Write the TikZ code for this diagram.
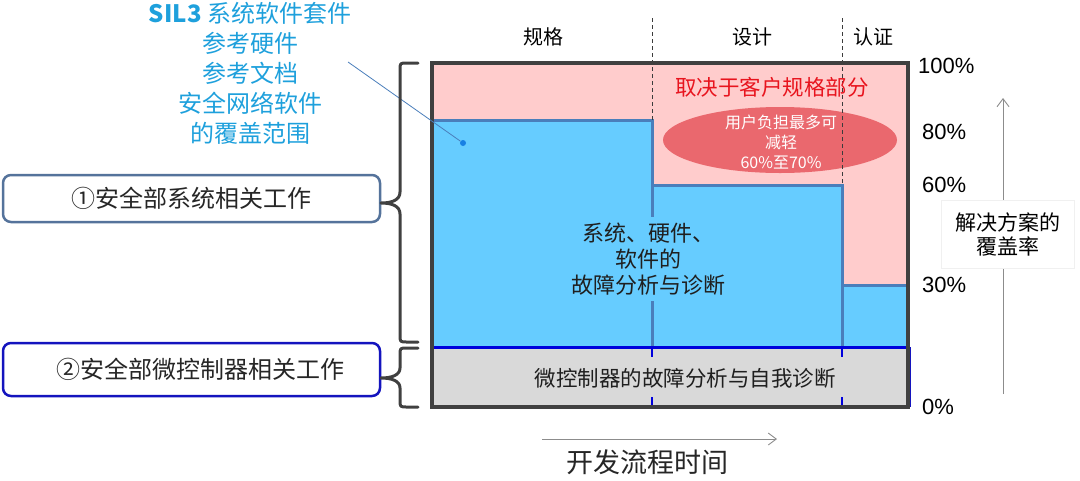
\documentclass[tikz,border=0pt]{standalone}
\usepackage{fontspec}
\setmainfont{Liberation Sans}
\newfontfamily\cjk{Noto Sans CJK SC}
\usetikzlibrary{shapes.geometric,arrows.meta}
\definecolor{pinkbg}{RGB}{255,204,204}
\definecolor{bluefill}{RGB}{102,204,255}
\definecolor{stepline}{RGB}{74,126,187}
\definecolor{framec}{RGB}{64,64,64}
\definecolor{ellfill}{RGB}{234,104,110}
\definecolor{redtxt}{RGB}{232,20,30}
\definecolor{cyantxt}{RGB}{30,160,220}
\definecolor{bandgray}{RGB}{217,217,217}
\definecolor{bandblue}{RGB}{0,0,220}
\definecolor{boxone}{RGB}{85,115,155}
\definecolor{boxtwo}{RGB}{20,20,190}
\definecolor{arrowgray}{RGB}{140,140,140}
\definecolor{dashc}{RGB}{60,60,60}
\tikzset{
  fs/.style={font=\fontsize{#1}{#1}\selectfont\cjk},
  stepbox/.style={fill=bluefill, draw=stepline, line width=3pt},
  phase/.style={dashc, line width=0.8pt, dash pattern=on 4pt off 3pt},
  bandtick/.style={bandblue, line width=2.5pt, dash pattern=on 10pt off 6pt},
  pct/.style={anchor=west, font=\fontsize{22}{22}\selectfont, inner sep=0pt},
  brace/.style={framec, line width=3pt, line cap=round, line join=round},
  workbox/.style={rounded corners=8pt, line width=2.5pt, minimum width=377pt, minimum height=47pt, fill=white, text=black!85},
  gline/.style={arrowgray, line width=0.9pt, -{Straight Barb[length=8pt,width=12pt]}},
}
\begin{document}
\begin{tikzpicture}[x=1pt,y=-1pt]
\useasboundingbox (0,0) rectangle (1080,480);

% main chart area
\fill[pinkbg] (432,63) rectangle (908,347);
\draw[stepbox] (432,120) rectangle (652,347);
\draw[stepbox] (652,185) rectangle (842,347);
\draw[stepbox] (842,285) rectangle (908,347);

% phase dividers (upper part)
\draw[phase] (652,18) -- (652,120);
\node[ellipse, fill=ellfill, minimum width=234pt, minimum height=66pt, inner sep=0pt] (ell) at (780,140) {};
\draw[phase] (842,18) -- (842,185);
\node[font={\fontsize{16}{20}\selectfont\cjk}, text=white, align=center, inner sep=0pt] (elltxt) at (781,142)
  {用户负担最多可\\减轻\\60\%至70\%};

\node[fs=21.5, text=redtxt, inner sep=0pt] (dep) at (772,87) {取决于客户规格部分};

% phase headers
\node[fs=20, inner sep=0pt] (h1) at (543,37) {规格};
\node[fs=20, inner sep=0pt] (h2) at (752,37) {设计};
\node[fs=20, inner sep=0pt] (h3) at (873,37) {认证};

% central text on blue
\node[font={\fontsize{22}{26}\selectfont\cjk}, fill=bluefill, text=black!88, align=center, inner xsep=3pt, inner ysep=6pt] (sys) at (648,259)
  {系统、硬件、\\软件的\\故障分析与诊断};

% microcontroller band
\fill[bandgray] (432,347) rectangle (910,407);
\draw[boxtwo, line width=1pt] (910,347) -- (910,407);
\draw[bandtick] (652,347) -- (652,407);
\draw[bandtick] (842,347) -- (842,407);
\draw[bandblue, line width=3pt] (432,347) -- (910,347);
\node[fs=21.5, fill=bandgray, text=black!88, inner xsep=8pt, inner ysep=9pt] (mcu) at (685,378) {微控制器的故障分析与自我诊断};

% frame
\draw[framec, line width=4pt] (432,63) rectangle (908,407);

% percentages
\node[pct] (p100) at (918,66) {100\%};
\node[pct] (p80) at (922,132) {80\%};
\node[pct] (p60) at (922,185) {60\%};
\node[pct] (p30) at (922,285) {30\%};
\node[pct] (p0) at (922,407) {0\%};

% coverage axis
\coordinate (covlo) at (1003,394);
\coordinate (covhi) at (1003,98);
\draw[gline] (covlo) -- (covhi);
\node[font={\fontsize{21}{24}\selectfont\cjk}, fill=white, draw=black!6, align=center, minimum width=133pt, minimum height=68pt, inner sep=0pt] (cov) at (1008,234)
  {解决方案的\\覆盖率};

% time axis
\coordinate (tlo) at (542,439);
\coordinate (thi) at (777,439);
\draw[gline] (tlo) -- (thi);
\node[fs=27, text=black!85, inner sep=0pt] (time) at (647,462) {开发流程时间};

% top-left blue text and pointer
\node[font={\fontsize{24}{30}\selectfont\cjk}, text=cyantxt, align=center, inner sep=0pt] (sil) at (250,73)
  {{\bfseries SIL3} 系统软件套件\\参考硬件\\参考文档\\安全网络软件\\的覆盖范围};
\coordinate (ptrs) at (348,62);
\node[circle, fill=cyantxt!80!blue, inner sep=0pt, minimum size=6pt] (dot) at (463,143) {};
\draw[stepline, line width=0.8pt] (ptrs) -- (dot);

% left work boxes
\node[workbox, draw=boxone, fs=24] (w1) at (191.5,198.5) {①安全部系统相关工作};
\node[workbox, draw=boxtwo, fs=24, minimum height=53pt] (w2) at (191.5,369.5) {\hspace*{18pt}②安全部微控制器相关工作};

% braces
\draw[brace] (418,63) -- (407,63) .. controls (400,63) .. (400,70) -- (400,192)
  .. controls (400,200) and (392,203) .. (381,203)
  .. controls (392,203) and (400,206) .. (400,214) -- (400,335)
  .. controls (400,342) .. (407,342) -- (418,342);
\draw[brace] (418,348) -- (407,348) .. controls (400,348) .. (400,355) -- (400,368)
  .. controls (400,375) and (392,378) .. (381,378)
  .. controls (392,378) and (400,381) .. (400,388) -- (400,400)
  .. controls (400,407) .. (407,407) -- (418,407);
\end{tikzpicture}
\end{document}
